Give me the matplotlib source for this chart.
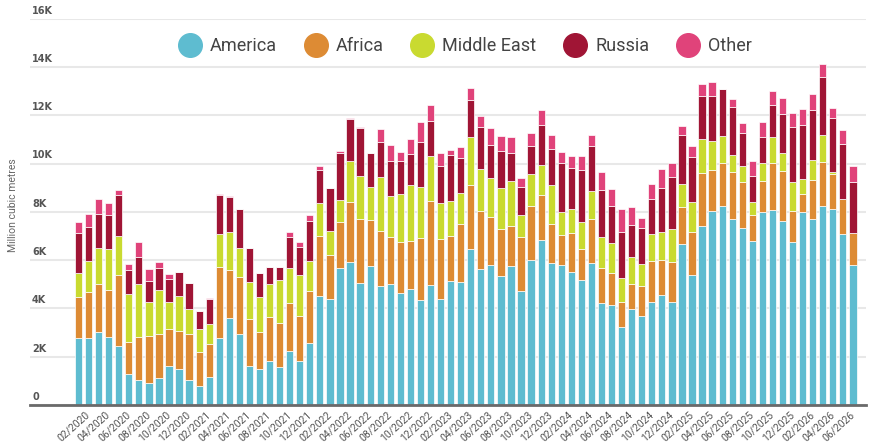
import matplotlib
matplotlib.use("Agg")
import matplotlib.pyplot as plt
from matplotlib import font_manager, transforms
from matplotlib.lines import Line2D

names = {f.name for f in font_manager.fontManager.ttflist}
NARROW = "Roboto" if "Roboto" in names else "DejaVu Sans"

months = [f"{m:02d}/{y}" for y in range(2020, 2027) for m in range(1, 13)][:78]

america = [2.77, 2.79, 3.01, 2.82, 2.46, 1.28, 1.04, 0.90, 1.10, 1.61, 1.48, 1.04, 0.80,
           1.17, 2.79, 3.60, 2.94, 1.63, 1.48, 1.84, 1.59, 2.24, 1.82, 2.57, 4.50, 4.39,
           5.69, 5.94, 5.05, 5.77, 4.94, 5.02, 4.62, 4.80, 4.33, 4.98, 4.38, 5.13, 5.11,
           6.45, 5.63, 5.78, 5.36, 5.76, 4.72, 6.00, 6.85, 5.89, 5.78, 5.52, 5.16, 5.89,
           4.21, 4.13, 3.22, 3.96, 3.70, 4.25, 4.57, 4.25, 6.67, 5.37, 7.43, 8.02, 8.24,
           7.69, 7.33, 6.80, 7.98, 8.07, 7.61, 6.74, 7.98, 7.69, 8.24, 8.13, 7.07, 5.78]
africa = [1.69, 1.90, 2.00, 1.93, 2.91, 1.34, 1.79, 1.97, 1.84, 1.52, 1.58, 1.89, 1.39,
          1.34, 2.92, 2.00, 2.37, 1.92, 1.53, 1.80, 1.82, 2.00, 1.87, 2.15, 2.51, 1.82,
          1.87, 2.48, 2.67, 1.89, 2.26, 1.94, 2.12, 2.00, 2.57, 3.47, 2.49, 1.86, 2.38,
          2.65, 2.40, 2.02, 1.91, 1.67, 2.22, 2.24, 1.85, 1.60, 1.26, 1.59, 1.31, 1.83,
          1.46, 1.32, 1.03, 1.05, 1.23, 1.71, 1.43, 1.66, 1.53, 1.79, 2.16, 1.71, 1.77,
          1.97, 1.92, 1.07, 1.31, 1.95, 2.08, 1.29, 0.76, 1.63, 1.82, 1.42, 1.46, 1.33]
middle_east = [1.02, 1.27, 1.50, 1.71, 1.63, 1.96, 2.18, 1.41, 1.82, 1.15, 1.45, 1.03, 0.94,
               0.83, 1.36, 1.58, 1.20, 1.54, 1.46, 1.38, 1.75, 1.45, 1.69, 1.24, 1.37, 0.99,
               0.93, 1.68, 1.75, 1.35, 2.23, 1.68, 2.01, 2.31, 2.14, 1.86, 1.51, 1.47, 1.30,
               1.98, 1.74, 1.61, 1.70, 1.86, 0.94, 1.31, 1.22, 1.62, 0.94, 1.01, 1.11, 1.14,
               1.27, 1.26, 1.01, 1.10, 0.89, 1.11, 1.18, 1.36, 0.95, 1.26, 1.42, 1.22, 1.13,
               0.69, 0.65, 0.55, 0.73, 1.06, 0.73, 1.22, 0.60, 0.82, 1.11, 0.11, 0.00, 0.00]
russia = [1.66, 1.42, 1.40, 1.39, 1.70, 1.01, 1.12, 0.84, 0.91, 0.95, 0.98, 1.09, 0.76,
          1.06, 1.61, 1.45, 1.61, 1.40, 0.98, 0.69, 0.54, 1.28, 1.18, 1.66, 1.35, 1.77,
          1.96, 1.73, 2.01, 1.41, 1.45, 1.46, 1.35, 1.30, 1.85, 1.46, 1.52, 1.89, 1.44,
          1.55, 1.74, 1.34, 1.55, 1.16, 1.15, 1.19, 1.66, 1.48, 2.05, 1.68, 2.15, 1.88,
          1.96, 1.54, 1.90, 1.34, 1.52, 1.45, 1.79, 2.18, 2.04, 1.86, 1.79, 1.86, 1.93,
          1.98, 1.38, 1.06, 1.09, 1.36, 1.63, 2.26, 2.24, 2.08, 2.43, 2.21, 2.26, 2.14]
other = [0.42, 0.53, 0.62, 0.50, 0.20, 0.25, 0.62, 0.51, 0.27, 0.18, 0.00, 0.00, 0.00,
         0.03, 0.04, 0.02, 0.00, 0.00, 0.00, 0.00, 0.00, 0.18, 0.18, 0.25, 0.15, 0.00,
         0.05, 0.04, 0.04, 0.02, 0.53, 0.65, 0.38, 0.62, 0.83, 0.65, 0.52, 0.20, 0.47,
         0.48, 0.47, 0.71, 0.63, 0.63, 0.36, 0.54, 0.64, 0.59, 0.45, 0.51, 0.58, 0.43,
         0.76, 0.68, 0.96, 0.76, 0.39, 0.63, 0.82, 0.56, 0.38, 0.44, 0.48, 0.58, 0.03,
         0.35, 0.38, 0.62, 0.62, 0.56, 0.65, 0.58, 0.69, 0.64, 0.52, 0.43, 0.60, 0.66]

series_names = ["America", "Africa", "Middle East", "Russia", "Other"]
series_values = [america, africa, middle_east, russia, other]
colors = ["#5EBCD0", "#DD8B34", "#C9DA30", "#A01535", "#E0437A"]
y_ticks = [0, 2, 4, 6, 8, 10, 12, 14, 16]
y_tick_labels = ["0", "2K", "4K", "6K", "8K", "10K", "12K", "14K", "16K"]

W, H = 888, 443
fig = plt.figure(figsize=(W / 100, H / 100), dpi=100)
left_px, right_px, top_px, bot_px = 30, 866, 18.6, 405
ax = fig.add_axes([left_px / W, (H - bot_px) / H, (right_px - left_px) / W, (bot_px - top_px) / H])

x = list(range(len(months)))
bottom = [0.0] * len(months)
for name, vals, c in zip(series_names, series_values, colors):
    ax.bar(x, vals, width=0.72, bottom=bottom, color=c, edgecolor="white",
           linewidth=0.5, zorder=3)
    bottom = [b + v for b, v in zip(bottom, vals)]

ax.set_xlim(-4.82, 78.3)
ax.set_ylim(0, 16)
ax.set_yticks(y_ticks)
ax.yaxis.grid(True, color="#e8e8e8", linewidth=1.5, zorder=0)
ax.set_axisbelow(True)
ax.tick_params(axis="y", length=0, labelleft=False)
for s in ["top", "right", "left"]:
    ax.spines[s].set_visible(False)
ax.spines["bottom"].set_color("#6a6a6a")
ax.spines["bottom"].set_linewidth(2)
ax.spines["bottom"].set_zorder(4)

trans = transforms.blended_transform_factory(ax.transAxes, ax.transData)
trans = transforms.offset_copy(trans, fig=fig, x=2, y=3, units="dots")
for v, lab in zip(y_ticks, y_tick_labels):
    ax.text(0.0, v, lab, transform=trans, ha="left", va="bottom", fontsize=7,
            fontweight="bold", color="#555555", family="DejaVu Sans")

tick_idx = [i for i in x if i % 2 == 1]
ax.set_xticks(tick_idx)
ax.set_xticklabels([months[i] for i in tick_idx], rotation=42, ha="right", va="center",
                   rotation_mode="anchor", fontsize=7.5, color="#555555", family=NARROW)
ax.tick_params(axis="x", length=0, pad=6)

fig.text(13 / W, 1 - 205 / H, "Million cubic metres", rotation=90, ha="center",
         va="center", fontsize=7.5, color="#666666", family=NARROW)

handles = [Line2D([], [], marker="o", linestyle="", markersize=17, markerfacecolor=c,
                  markeredgecolor=c) for c in colors]
leg = fig.legend(handles, series_names, loc="center", bbox_to_anchor=(465 / W, 1 - 46 / H),
                 ncol=5, frameon=False, handletextpad=0.45, columnspacing=1.5,
                 prop={"family": NARROW, "size": 13}, labelcolor="#444444",
                 handlelength=1.3)

fig.savefig("out.png", dpi=100, facecolor="white")
